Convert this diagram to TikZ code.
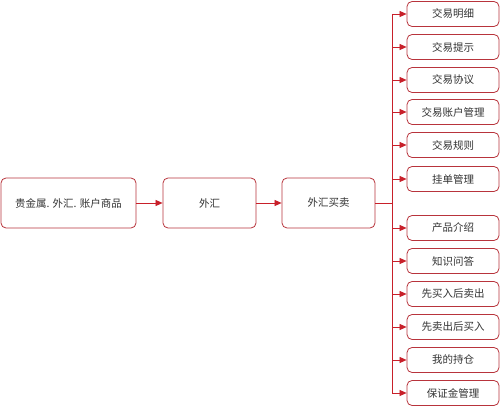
\documentclass[tikz,border=0pt]{standalone}
\usepackage{fontspec}
\newfontfamily\cjk{Noto Sans CJK SC}
\usetikzlibrary{arrows.meta}
\definecolor{boxred}{HTML}{B8343C}
\definecolor{linered}{HTML}{C8202A}
\begin{document}
\begin{tikzpicture}[x=1pt,y=-1pt,
  box/.style={draw=boxred,line width=0.8pt,rounded corners=5pt,fill=white,font=\cjk\fontsize{10.5}{12}\selectfont,text=black!80,inner sep=0pt},
  lbox/.style={box,minimum width=92pt,minimum height=25pt},
  conn/.style={draw=linered,line width=0.7pt,-{Triangle[length=7pt,width=6pt]}},
  plain/.style={draw=linered,line width=0.7pt}]
\useasboundingbox (0,0) rectangle (500,406);
\node[box,minimum width=135pt,minimum height=50pt] (a) at (68.5,203) {贵金属. 外汇. 账户商品};
\node[box,minimum width=93pt,minimum height=50pt] (b) at (209.5,203) {外汇};
\node[box,minimum width=93pt,minimum height=50pt] (c) at (328.5,203) {外汇买卖};
\draw[conn] (a) -- (b);
\draw[conn] (b) -- (c);
\coordinate (j) at (392,203);
\coordinate (vt) at (392,14);
\coordinate (vb) at (392,393);
\draw[plain] (c.east) -- (j);
\draw[plain] (vt) -- (vb);
\foreach \n/\y/\t in {r1/14/交易明细,r2/47/交易提示,r3/80/交易协议,r4/112/交易账户管理,r5/145/交易规则,r6/179/挂单管理,r7/228/产品介绍,r8/261/知识问答,r9/294/先买入后卖出,r10/327/先卖出后买入,r11/360/我的持仓,r12/393/保证金管理}{
  \node[lbox] (\n) at (453,\y) {\t};
  \coordinate (s\n) at (392,\y);
  \draw[conn] (s\n) -- (\n);
}
\end{tikzpicture}
\end{document}
